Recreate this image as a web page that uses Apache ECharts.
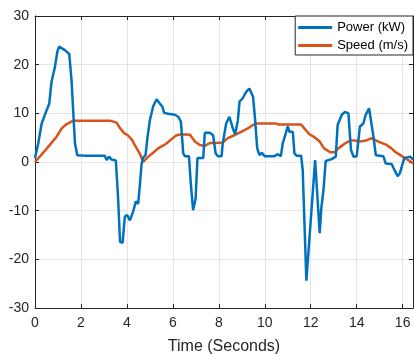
<!DOCTYPE html>
<html>
<head>
<meta charset="utf-8">
<script src="https://cdn.jsdelivr.net/npm/echarts@6/dist/echarts.min.js"></script>
<style>html,body{margin:0;padding:0;background:#fff;}#c{width:414px;height:354px;}</style>
</head>
<body>
<div id="c"></div>
<script>
var powerT = [0.00,0.14,0.29,0.51,0.62,0.72,0.87,0.97,1.05,1.09,1.30,1.49,1.59,1.70,1.74,1.84,2.2,2.6,3.04,3.12,3.22,3.33,3.52,3.62,3.70,3.81,3.91,4.01,4.13,4.27,4.39,4.49,4.57,4.64,4.71,4.81,4.90,5.00,5.14,5.29,5.43,5.54,5.62,5.80,6.09,6.23,6.35,6.45,6.52,6.70,6.78,6.88,6.99,7.07,7.32,7.39,7.61,7.75,7.86,7.96,8.12,8.17,8.32,8.46,8.61,8.71,8.83,8.90,9.04,9.19,9.33,9.38,9.49,9.58,9.67,9.77,9.87,9.99,10.42,10.57,10.70,10.78,10.93,11.00,11.07,11.22,11.29,11.38,11.58,11.65,11.81,12.19,12.39,12.46,12.56,12.65,12.70,12.91,13.09,13.17,13.35,13.49,13.64,13.75,13.86,14.00,14.14,14.29,14.39,14.54,14.60,14.73,14.83,15.16,15.26,15.52,15.64,15.78,15.88,16.07,16.32,16.46];
var powerV = [0.8,3.8,7.9,10.7,12.0,16.5,19.6,22.6,23.7,23.7,23.0,22.2,16.8,7.2,3.8,1.4,1.3,1.3,1.3,0.4,1.1,0.5,0.3,-7.8,-16.4,-16.6,-11.2,-10.9,-12.0,-10.2,-8.1,-8.6,-4.4,-0.3,0.9,1.4,5.2,8.6,11.4,12.9,12.0,11.4,10.1,9.9,9.7,9.3,8.3,1.8,1.2,1.2,-4.4,-9.9,-7.5,0.8,0.8,6.0,6.0,5.5,1.8,1.2,1.2,3.8,7.9,9.3,6.9,5.7,8.6,12.4,13.1,14.4,15.1,15.1,13.4,8.6,2.8,1.4,1.9,1.2,1.2,1.6,1.2,3.8,6.2,7.3,6.2,6.2,1.8,1.3,1.3,-1.6,-24.4,0.4,-14.6,-9.5,-5.5,0.2,0.5,0.6,1.1,7.6,9.7,10.3,10.0,2.5,1.1,1.2,7.3,7.9,9.7,11.0,11.0,5.2,1.4,1.2,-0.3,-0.4,-1.6,-2.9,-2.3,0.8,1.1,0.5];
var speedT = [0,0.5,0.94,1.16,1.38,1.67,3.26,3.33,3.55,3.68,3.86,4.04,4.23,4.35,4.57,4.71,4.93,5.14,5.36,5.58,5.72,5.94,6.16,6.38,6.74,6.96,7.17,7.39,7.61,7.83,8.17,8.39,8.68,8.97,9.26,9.48,9.62,10.49,10.6,11.58,11.72,11.94,12.16,12.39,12.58,12.85,13.04,13.2,13.49,13.71,13.9,14.14,14.4,14.65,14.94,15.3,15.51,15.67,16.0,16.25,16.46];
var speedV = [0,2.7,5.2,6.9,7.8,8.5,8.5,8.2,8.1,7.1,6.0,5.5,4.5,3.4,1.6,0,1.1,1.9,2.8,3.4,3.8,4.7,5.5,5.7,5.6,4.2,3.5,3.3,3.9,3.9,4.0,4.9,5.5,6.2,6.9,7.6,7.9,7.9,7.7,7.7,6.9,5.7,5.1,4.2,2.8,2.0,2.0,2.8,3.8,4.4,4.4,4.2,4.4,4.9,4.2,3.5,2.8,2.1,1.1,0.4,-0.3];
var seriesNames = ['Power (kW)', 'Speed (m/s)'];
var xTicks = [0,2,4,6,8,10,12,14,16];
var yTicks = [-30,-20,-10,0,10,20,30];

function zip(a,b){var r=[];for(var i=0;i<a.length;i++)r.push([a[i],b[i]]);return r;}

var FONT = "'Liberation Sans', Arial, Helvetica, sans-serif";
var AX = '#262626';
var xMin = 0, xMax = 16.45, yMin = -30, yMax = 30;

function xAx(pos, primary){
  return {
    type:'value', position:pos, min:xMin, max:xMax, interval:2,
    name: primary ? 'Time (Seconds)' : '', nameLocation:'middle', nameGap:31,
    nameTextStyle:{color:AX, fontSize:16, fontFamily:FONT},
    axisLine:{show:true, onZero:false, lineStyle:{color:AX, width:1}},
    axisTick:{show:true, inside:true, length:4, lineStyle:{color:AX}},
    axisLabel:{show:primary, color:AX, fontSize:14, fontFamily:FONT, margin:8, showMaxLabel:false,
      formatter:function(v){return xTicks.indexOf(v)>=0 ? String(v) : '';}},
    splitLine:{show:primary, lineStyle:{color:'#e4e4e4', width:1}}
  };
}
function yAx(pos, primary){
  return {
    type:'value', position:pos, min:yMin, max:yMax, interval:10,
    axisLine:{show:true, onZero:false, lineStyle:{color:AX, width:1}},
    axisTick:{show:true, inside:true, length:4, lineStyle:{color:AX}},
    axisLabel:{show:primary, color:AX, fontSize:14, fontFamily:FONT, margin:6,
      formatter:function(v){return yTicks.indexOf(v)>=0 ? String(v) : '';}},
    splitLine:{show:primary, lineStyle:{color:'#e4e4e4', width:1}}
  };
}

var chart = echarts.init(document.getElementById('c'), null, {renderer:'canvas'});
chart.setOption({
  animation:false,
  backgroundColor:'#fff',
  grid:{left:35, right:1, top:16, bottom:46, containLabel:false, outerBoundsMode:'none'},
  legend:{
    orient:'vertical', right:1, top:16, icon:'rect', itemWidth:34, itemHeight:3, itemGap:3,
    padding:[4,5,2,3], backgroundColor:'#fff', borderColor:AX, borderWidth:1,
    textStyle:{color:'#000', fontSize:13, fontFamily:FONT, lineHeight:15},
    data:seriesNames
  },
  xAxis:[xAx('bottom', true), xAx('top', false)],
  yAxis:[yAx('left', true), yAx('right', false)],
  series:[
    {name:seriesNames[0], type:'line', data:zip(powerT,powerV), showSymbol:false, symbol:'none',
     lineStyle:{color:'#0072BD', width:2.5}, itemStyle:{color:'#0072BD'}, z:3},
    {name:seriesNames[1], type:'line', data:zip(speedT,speedV), showSymbol:false, symbol:'none',
     lineStyle:{color:'#D95319', width:2.5}, itemStyle:{color:'#D95319'}, z:2}
  ]
});
</script>
</body>
</html>
